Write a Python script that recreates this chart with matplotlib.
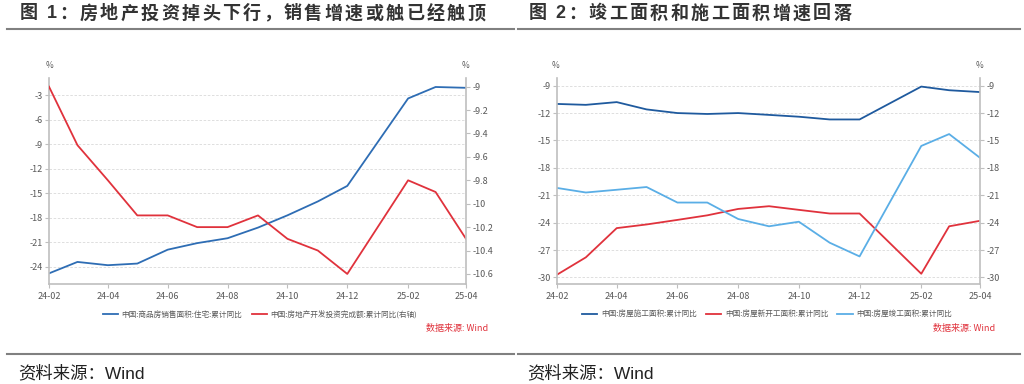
import matplotlib
matplotlib.use("Agg")
import matplotlib.pyplot as plt
import matplotlib.dates as mdates
import pandas as pd

plt.rcParams['font.family'] = ['Noto Sans CJK SC', 'DejaVu Sans']

months = ["2024-02", "2024-03", "2024-04", "2024-05", "2024-06", "2024-07", "2024-08",
          "2024-09", "2024-10", "2024-11", "2024-12", "2025-02", "2025-03", "2025-04"]
tick_months = ["2024-02", "2024-04", "2024-06", "2024-08", "2024-10", "2024-12", "2025-02", "2025-04"]

# Chart 1
sales_area = [-24.8, -23.4, -23.8, -23.6, -21.9, -21.1, -20.5, -19.2, -17.7, -16.0, -14.1, -3.4, -2.0, -2.1]
invest = [-9.0, -9.5, -9.8, -10.1, -10.1, -10.2, -10.2, -10.1, -10.3, -10.4, -10.6, -9.8, -9.9, -10.3]
left1_ticks = [-3, -6, -9, -12, -15, -18, -21, -24]
right1_ticks = [-9, -9.2, -9.4, -9.6, -9.8, -10, -10.2, -10.4, -10.6]

# Chart 2
under_constr = [-11.0, -11.1, -10.8, -11.6, -12.0, -12.1, -12.0, -12.2, -12.4, -12.7, -12.7, -9.1, -9.5, -9.7]
new_start = [-29.7, -27.8, -24.6, -24.2, -23.7, -23.2, -22.5, -22.2, -22.6, -23.0, -23.0, -29.6, -24.4, -23.8]
completed = [-20.2, -20.7, -20.4, -20.1, -21.8, -21.8, -23.6, -24.4, -23.9, -26.2, -27.7, -15.6, -14.3, -16.9]
y2_ticks = [-9, -12, -15, -18, -21, -24, -27, -30]

labels1 = ["中国:商品房销售面积:住宅:累计同比", "中国:房地产开发投资完成额:累计同比(右轴)"]
labels2 = ["中国:房屋施工面积:累计同比", "中国:房屋新开工面积:累计同比", "中国:房屋竣工面积:累计同比"]
title1 = "图 1：房地产投资掉头下行，销售增速或触已经触顶"
title2 = "图 2：竣工面积和施工面积增速回落"
source_note = "数据来源: Wind"
source_text = "资料来源：Wind"

x = pd.to_datetime(months)
xt = pd.to_datetime(tick_months)

BLUE = "#2E6DB4"
DBLUE = "#1F5A9E"
RED = "#E0323C"
LBLUE = "#5AAEE6"
GRID = "#D9D9D9"
AX = "#BFBFBF"
TXT = "#595959"
W, H = 1024, 384

fig = plt.figure(figsize=(10.24, 3.84), dpi=100)
renderer = fig.canvas.get_renderer()
MIXED = ['Liberation Sans', 'Noto Sans CJK SC']


def style_axes(ax, ax2):
    for a in (ax, ax2):
        a.spines["top"].set_visible(False)
        for s in ("left", "right", "bottom"):
            a.spines[s].set_color(AX)
            a.spines[s].set_linewidth(1.2)
        a.tick_params(axis="both", labelsize=6.5, colors=AX, labelcolor=TXT, length=3, width=0.8, pad=1.5)
    ax.spines["right"].set_visible(False)
    ax2.spines["left"].set_visible(False)
    ax2.spines["bottom"].set_visible(False)
    ax.set_xlim(x[0], x[-1])
    ax.set_xticks(xt)
    ax.xaxis.set_major_formatter(mdates.DateFormatter("%y-%m"))
    ax.tick_params(axis="x", pad=3)
    ax.yaxis.grid(True, color=GRID, linestyle=(0, (3, 2)), linewidth=0.6)
    ax.set_axisbelow(True)


def spaced_text(x0, y, s, spacing, **kw):
    xp = x0
    for ch in s:
        t = fig.text(xp / W, 1 - y / H, ch, ha="left", va="center", **kw)
        w = t.get_window_extent(renderer).width
        if ch == " ":
            w = 4
        xp += w + spacing


# ---------- Chart 1 ----------
ax1 = fig.add_axes([49/W, 1-284/H, (466-49)/W, 206/H])
ax1r = ax1.twinx()
style_axes(ax1, ax1r)
l1, = ax1.plot(x, sales_area, color=BLUE, lw=1.3)
l2, = ax1r.plot(x, invest, color=RED, lw=1.3)
ax1.set_ylim(-26.1, -0.9)
ax1.set_yticks(left1_ticks)
ax1.set_yticklabels([f"{v:g}" for v in left1_ticks])
ax1r.set_ylim(-10.686, -8.926)
ax1r.set_yticks(right1_ticks)
ax1r.set_yticklabels([f"{v:g}" for v in right1_ticks])
fig.text(49/W, 1-66/H, "%", fontsize=6, color=TXT, ha="center", va="center")
fig.text(466/W, 1-66/H, "%", fontsize=6, color=TXT, ha="center", va="center")
fig.legend([l1, l2], labels1, loc="center", bbox_to_anchor=(260/W, 1-315/H),
           ncol=2, frameon=False, fontsize=5.5, handlelength=2.0, columnspacing=1.2,
           handletextpad=0.5, labelcolor=TXT)
fig.text(488/W, 1-328/H, source_note, fontsize=6.5, color=RED, ha="right", va="center")

# ---------- Chart 2 ----------
ax2 = fig.add_axes([557/W, 1-284/H, (980-557)/W, 206/H])
ax2r = ax2.twinx()
style_axes(ax2, ax2r)
m1, = ax2.plot(x, under_constr, color=DBLUE, lw=1.3)
m2, = ax2.plot(x, new_start, color=RED, lw=1.3)
m3, = ax2.plot(x, completed, color=LBLUE, lw=1.3)
for a in (ax2, ax2r):
    a.set_ylim(-30.72, -8.16)
    a.set_yticks(y2_ticks)
    a.set_yticklabels([f"{v:g}" for v in y2_ticks])
fig.text(556/W, 1-66/H, "%", fontsize=6, color=TXT, ha="center", va="center")
fig.text(979/W, 1-66/H, "%", fontsize=6, color=TXT, ha="center", va="center")
fig.legend([m1, m2, m3], labels2, loc="center", bbox_to_anchor=(767/W, 1-315/H),
           ncol=3, frameon=False, fontsize=5.5, handlelength=2.0, columnspacing=1.2,
           handletextpad=0.5, labelcolor=TXT)
fig.text(995/W, 1-328/H, source_note, fontsize=6.5, color=RED, ha="right", va="center")

# ---------- Titles, rules, sources ----------
spaced_text(20, 14, title1, 2.4, fontsize=13, fontweight="bold", color="#333333", family=MIXED)
spaced_text(529, 14, title2, 2.4, fontsize=13, fontweight="bold", color="#333333", family=MIXED)
for (xa, xb) in [(7, 514), (518, 1020)]:
    fig.add_artist(plt.Line2D([xa/W, xb/W], [1-29/H, 1-29/H], color="#808080", lw=1.5))
    fig.add_artist(plt.Line2D([xa/W, xb/W], [1-354/H, 1-354/H], color="#808080", lw=1.5))
fig.text(18/W, 1-373/H, source_text, fontsize=12.5, color="#222222", ha="left", va="center", family=MIXED)
fig.text(527/W, 1-373/H, source_text, fontsize=12.5, color="#222222", ha="left", va="center", family=MIXED)

fig.savefig("out.png", dpi=100)
